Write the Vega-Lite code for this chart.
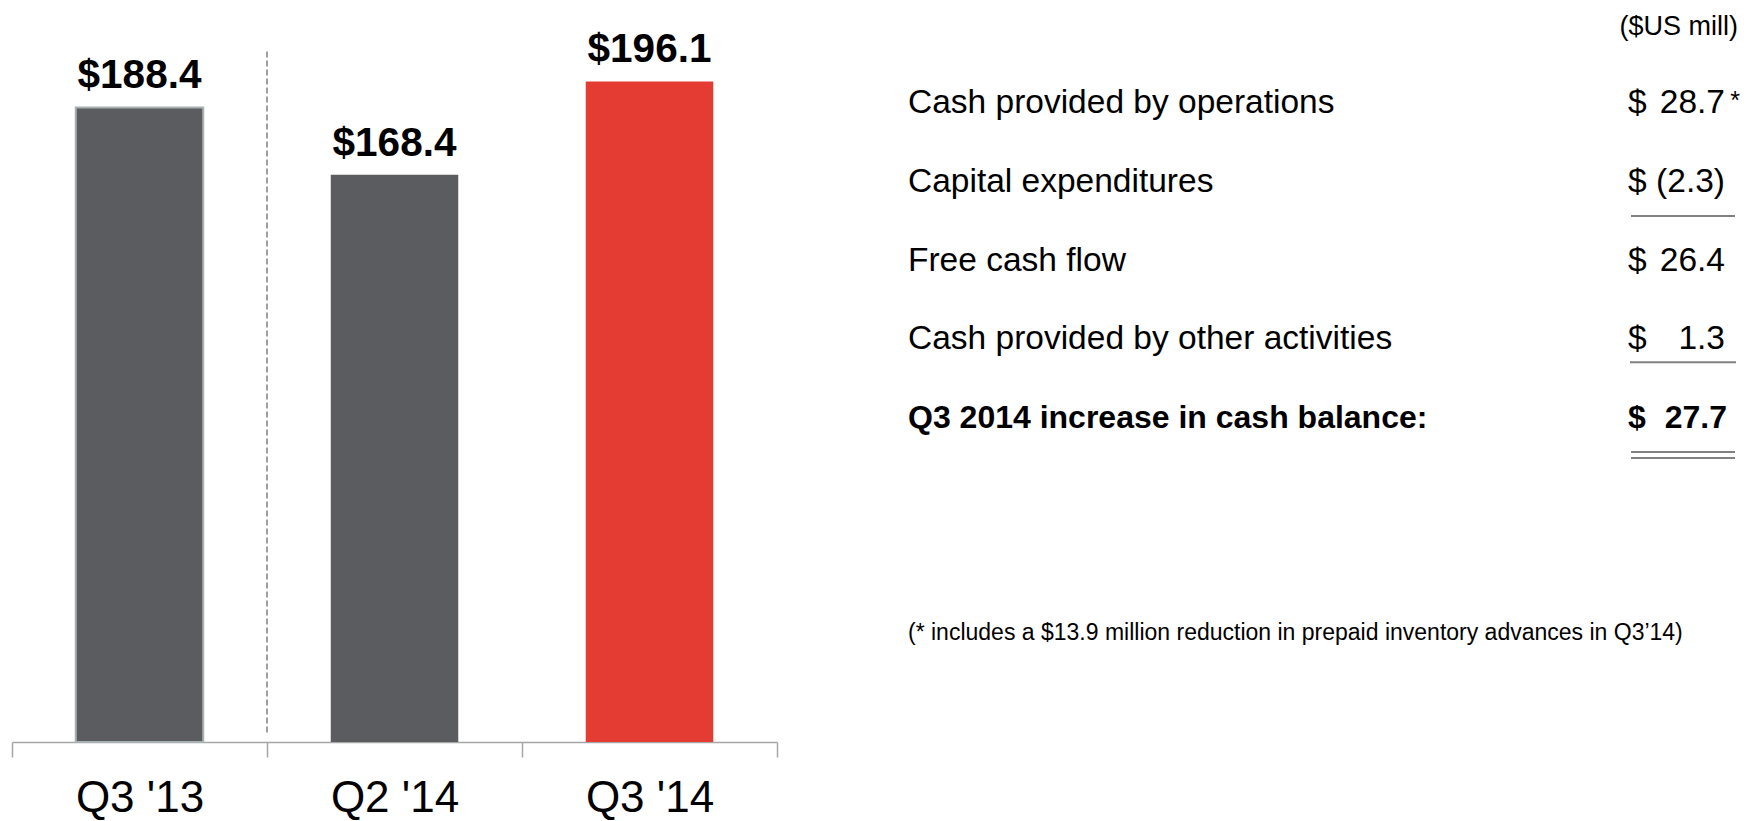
{
  "$schema": "https://vega.github.io/schema/vega-lite/v6.json",
  "background": "white",
  "padding": {"left": 11, "top": 1, "right": 0, "bottom": 0},
  "spacing": 130,
  "config": {"view": {"stroke": null}, "font": "Liberation Sans"},
  "datasets": {
    "bars": [
      {"quarter": "Q3 '13", "cash": 188.4},
      {"quarter": "Q2 '14", "cash": 168.4},
      {"quarter": "Q3 '14", "cash": 196.1}
    ],
    "divider": [{"between": "Q2 '14"}],
    "table": [
      {"row": 0, "kind": "header", "label": "($US mill)"},
      {"row": 1, "kind": "line", "label": "Cash provided by operations", "amount": 28.7, "note": "*"},
      {"row": 2, "kind": "line", "label": "Capital expenditures", "amount": -2.3, "underline": "subtotal"},
      {"row": 3, "kind": "line", "label": "Free cash flow", "amount": 26.4},
      {"row": 4, "kind": "line", "label": "Cash provided by other activities", "amount": 1.3, "underline": "single"},
      {"row": 5, "kind": "total", "label": "Q3 2014 increase in cash balance:", "amount": 27.7, "underline": "double"}
    ]
  },
  "hconcat": [
    {
      "width": 765,
      "height": 741,
      "data": {"name": "bars"},
      "layer": [
        {
          "mark": {"type": "bar", "width": {"band": 0.5}, "strokeWidth": 2},
          "encoding": {
            "x": {
              "field": "quarter", "type": "nominal",
              "scale": {"domain": ["Q3 '13", "Q2 '14", "Q3 '14"], "paddingInner": 0, "paddingOuter": 0},
              "axis": {
                "title": null, "labelAngle": 0, "labelFontSize": 44, "labelColor": "#000000",
                "labelFont": "Liberation Sans", "labelPadding": 19, "tickSize": 15,
                "tickColor": "#a6a6a6", "domainColor": "#a6a6a6", "tickWidth": 1.5, "domainWidth": 1.5,
                "tickBand": "extent", "grid": false
              }
            },
            "y": {"field": "cash", "type": "quantitative", "scale": {"domain": [0, 220], "nice": false}, "axis": null},
            "color": {
              "field": "quarter", "type": "nominal",
              "scale": {"domain": ["Q3 '13", "Q2 '14", "Q3 '14"], "range": ["#5b5c60", "#5b5c60", "#e43b32"]},
              "legend": null
            },
            "stroke": {"condition": {"test": "datum.quarter === \"Q3 '13\"", "value": "#a9b2b2"}, "value": null}
          }
        },
        {
          "mark": {"type": "text", "fontSize": 40.5, "fontWeight": "bold", "baseline": "alphabetic", "dy": -19, "color": "#000000"},
          "encoding": {
            "x": {"field": "quarter", "type": "nominal"},
            "y": {"field": "cash", "type": "quantitative"},
            "text": {"field": "cash", "type": "quantitative", "format": "$.1f"}
          }
        },
        {
          "data": {"name": "divider"},
          "mark": {"type": "rule", "strokeDash": [6, 3], "color": "#808080", "strokeWidth": 1.5},
          "encoding": {
            "x": {"field": "between", "type": "nominal", "bandPosition": 0},
            "y": {"datum": 205},
            "y2": {"datum": 2}
          }
        }
      ]
    },
    {
      "width": 830,
      "height": 460.5,
      "data": {"name": "table"},
      "title": {
        "text": "(* includes a $13.9 million reduction in prepaid inventory advances in Q3’14)",
        "orient": "bottom", "anchor": "start", "offset": 160, "fontSize": 23,
        "fontWeight": "normal", "color": "#000000", "font": "Liberation Sans"
      },
      "encoding": {
        "y": {"field": "row", "type": "ordinal", "scale": {"type": "point", "domain": [0, 1, 2, 3, 4, 5], "padding": 0.4257}, "axis": null}
      },
      "layer": [
        {
          "transform": [{"filter": "datum.kind === 'line'"}],
          "mark": {"type": "text", "align": "left", "baseline": "alphabetic", "fontSize": 33.5, "color": "#000000"},
          "encoding": {
            "x": {"datum": "item", "type": "nominal", "bandPosition": 0,
                  "scale": {"type": "band", "domain": ["item", "amount"], "paddingInner": 0.8472, "paddingOuter": 0}, "axis": null},
            "text": {"field": "label"}
          }
        },
        {
          "transform": [{"filter": "datum.kind === 'total'"}],
          "mark": {"type": "text", "align": "left", "baseline": "alphabetic", "fontSize": 32, "fontWeight": "bold", "color": "#000000"},
          "encoding": {
            "x": {"datum": "item", "type": "nominal", "bandPosition": 0},
            "text": {"field": "label"}
          }
        },
        {
          "transform": [{"filter": "datum.kind === 'line'"}],
          "mark": {"type": "text", "align": "left", "baseline": "alphabetic", "fontSize": 33.5, "color": "#000000"},
          "encoding": {
            "x": {"datum": "amount", "type": "nominal", "bandPosition": 0},
            "text": {"value": "$"}
          }
        },
        {
          "transform": [{"filter": "datum.kind === 'total'"}],
          "mark": {"type": "text", "align": "left", "baseline": "alphabetic", "fontSize": 32, "fontWeight": "bold", "color": "#000000"},
          "encoding": {
            "x": {"datum": "amount", "type": "nominal", "bandPosition": 0},
            "text": {"value": "$"}
          }
        },
        {
          "transform": [{"filter": "datum.kind === 'line'"}],
          "mark": {"type": "text", "align": "right", "baseline": "alphabetic", "fontSize": 33.5, "dx": -13, "color": "#000000"},
          "encoding": {
            "x": {"datum": "amount", "type": "nominal", "bandPosition": 1},
            "text": {"field": "amount", "type": "quantitative", "format": "(.1f"}
          }
        },
        {
          "transform": [{"filter": "datum.kind === 'total'"}],
          "mark": {"type": "text", "align": "right", "baseline": "alphabetic", "fontSize": 32, "fontWeight": "bold", "dx": -11, "color": "#000000"},
          "encoding": {
            "x": {"datum": "amount", "type": "nominal", "bandPosition": 1},
            "text": {"field": "amount", "type": "quantitative", "format": "(.1f"}
          }
        },
        {
          "transform": [{"filter": "datum.note"}],
          "mark": {"type": "text", "align": "right", "baseline": "alphabetic", "fontSize": 25, "dx": 2, "dy": -4, "color": "#000000"},
          "encoding": {
            "x": {"datum": "amount", "type": "nominal", "bandPosition": 1},
            "text": {"field": "note"}
          }
        },
        {
          "transform": [{"filter": "datum.kind === 'header'"}],
          "mark": {"type": "text", "align": "right", "baseline": "alphabetic", "fontSize": 27, "color": "#000000"},
          "encoding": {
            "x": {"datum": "amount", "type": "nominal", "bandPosition": 1},
            "text": {"field": "label"}
          }
        },
        {
          "transform": [{"filter": "datum.underline === 'subtotal'"}],
          "mark": {"type": "tick", "orient": "horizontal", "size": 104, "thickness": 2, "yOffset": 24, "color": "#808080", "opacity": 1},
          "encoding": {
            "x": {"datum": "amount", "type": "nominal"}
          }
        },
        {
          "transform": [{"filter": "datum.underline === 'single'"}],
          "mark": {"type": "tick", "orient": "horizontal", "size": 106, "thickness": 2, "yOffset": 13, "color": "#808080", "opacity": 1},
          "encoding": {
            "x": {"datum": "amount", "type": "nominal"}
          }
        },
        {
          "transform": [{"filter": "datum.underline === 'double'"}],
          "mark": {"type": "tick", "orient": "horizontal", "size": 104, "thickness": 2, "yOffset": 24, "color": "#808080", "opacity": 1},
          "encoding": {
            "x": {"datum": "amount", "type": "nominal"}
          }
        },
        {
          "transform": [{"filter": "datum.underline === 'double'"}],
          "mark": {"type": "tick", "orient": "horizontal", "size": 104, "thickness": 2, "yOffset": 30, "color": "#808080", "opacity": 1},
          "encoding": {
            "x": {"datum": "amount", "type": "nominal"}
          }
        }
      ]
    }
  ]
}
